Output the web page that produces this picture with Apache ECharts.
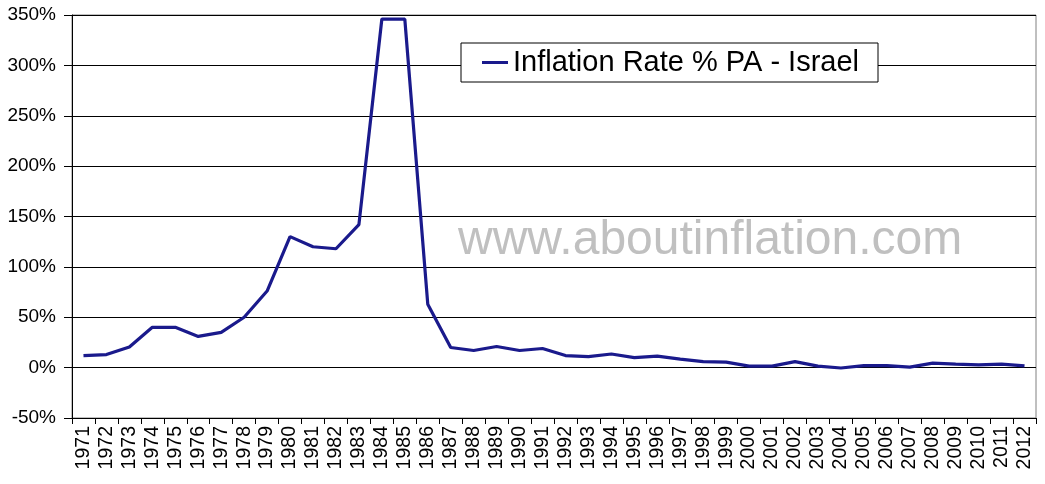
<!DOCTYPE html>
<html>
<head>
<meta charset="utf-8">
<script src="https://cdn.jsdelivr.net/npm/echarts@6/dist/echarts.min.js"></script>
<style>
  html, body { margin: 0; padding: 0; background: #fff; }
  #chart { width: 1045px; height: 484px; }
</style>
</head>
<body>
<div id="chart"></div>
<script>
let years = [];
for (let y = 1971; y <= 2012; y++) {
    years.push(String(y));
}

// inflation rate % per year
let inflation = [
    12, 13, 20.5, 40, 40, 31, 35, 50, 76, 130,
    120, 118, 142, 346, 346, 63, 20, 17, 21, 17,
    19, 12, 11, 13.5, 10, 11.5, 8.5, 6, 5.5, 1.5,
    1.5, 6, 1.5, -0.4, 2, 2, 0.5, 4.5, 3.5, 2.7,
    3.5, 1.7
];

let seriesName = 'Inflation Rate % PA - Israel';
let watermark = 'www.aboutinflation.com';

let dom = document.getElementById('chart');
let myChart = echarts.init(dom);

let option = {
    animation: false,
    backgroundColor: '#fff',
    textStyle: {
        fontFamily: 'Liberation Sans, Arial, sans-serif'
    },
    grid: {
        left: 72,
        right: 9,
        top: 15,
        bottom: 66,
        show: true,
        borderColor: '#808080',
        borderWidth: 1
    },
    legend: {
        left: 461,
        top: 43,
        padding: [5, 19, 5, 21],
        backgroundColor: '#fff',
        borderColor: '#000',
        borderWidth: 1,
        borderRadius: 0,
        itemWidth: 26,
        itemHeight: 3,
        itemGap: 0,
        icon: 'rect',
        textStyle: {
            fontSize: 29,
            color: '#000',
            padding: [2, 0, 0, 0]
        },
        data: [seriesName]
    },
    graphic: [
        {
            type: 'text',
            left: 458,
            top: 217,
            z: 1,
            style: {
                text: watermark,
                fontSize: 48,
                fontFamily: 'Liberation Sans, Arial, sans-serif',
                fill: '#c0c0c0'
            }
        }
    ],
    xAxis: {
        type: 'category',
        data: years,
        boundaryGap: true,
        axisLine: { onZero: false, lineStyle: { color: '#000', width: 1 } },
        axisTick: { show: true, length: 6, lineStyle: { color: '#000' } },
        axisLabel: {
            rotate: 90,
            interval: 0,
            fontSize: 19.5,
            color: '#000',
            margin: 8
        },
        splitLine: { show: false }
    },
    yAxis: {
        type: 'value',
        min: -50,
        max: 350,
        interval: 50,
        axisLine: { show: true, lineStyle: { color: '#000', width: 1 } },
        axisTick: { show: true, inside: false, length: 8, lineStyle: { color: '#000' } },
        axisLabel: {
            formatter: '{value}%',
            fontSize: 19,
            color: '#000',
            margin: 16
        },
        splitLine: { show: true, lineStyle: { color: '#000', width: 1 } }
    },
    series: [
        {
            name: seriesName,
            type: 'line',
            data: inflation,
            symbol: 'none',
            z: 5,
            lineStyle: { color: '#1a1a8c', width: 3.2 },
            itemStyle: { color: '#1a1a8c' }
        }
    ]
};

if (option && typeof option === "object") {
    myChart.setOption(option, true);
}
</script>
</body>
</html>
